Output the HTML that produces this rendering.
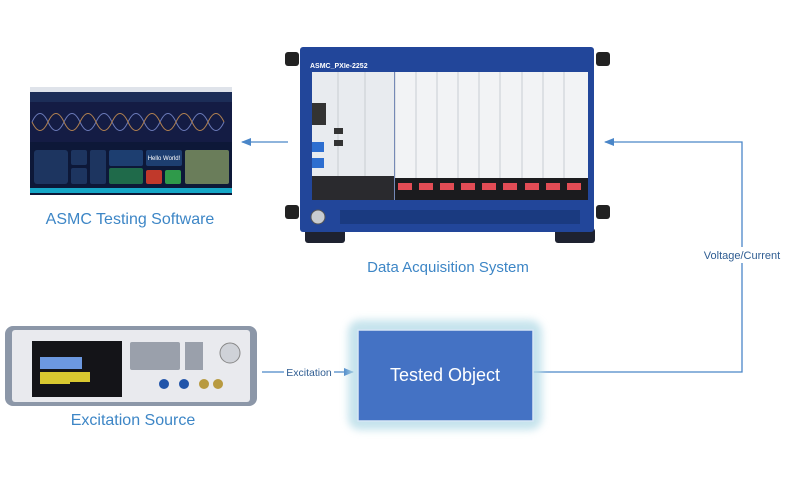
<!DOCTYPE html>
<html><head><meta charset="utf-8"><style>
body{margin:0;background:#fff;}
svg{display:block;font-family:"Liberation Sans",sans-serif;}
</style></head><body>
<svg width="789" height="480" viewBox="0 0 789 480" xmlns="http://www.w3.org/2000/svg">
<defs>
<marker id="ar" markerWidth="10" markerHeight="8" refX="9" refY="4" orient="auto" markerUnits="userSpaceOnUse"><path d="M0,0 L10,4 L0,8 Z" fill="#4a86c8"/></marker>
<filter id="gl" x="-20%" y="-20%" width="140%" height="140%"><feGaussianBlur stdDeviation="4"/></filter>
</defs>
<!-- Software screenshot -->
<rect x="30" y="87" width="202" height="108" fill="#0d1838"/>
<rect x="30" y="87" width="202" height="5" fill="#dfe3ea"/>
<rect x="30" y="92" width="202" height="10" fill="#1c2d57"/>
<rect x="30" y="102" width="202" height="40" fill="#141c44"/>
<path d="M32,122 Q40,105 48,122 T64,122 T80,122 T96,122 T112,122 T128,122 T144,122 T160,122 T176,122 T192,122 T208,122 T224,122" fill="none" stroke="#6b7ab8" stroke-width="1"/>
<path d="M32,122 Q40,139 48,122 T64,122 T80,122 T96,122 T112,122 T128,122 T144,122 T160,122 T176,122 T192,122 T208,122 T224,122" fill="none" stroke="#b08050" stroke-width="1"/>
<rect x="34" y="150" width="34" height="34" rx="3" fill="#1d3560"/>
<rect x="71" y="150" width="16" height="15" rx="2" fill="#1d3560"/>
<rect x="71" y="168" width="16" height="16" rx="2" fill="#1d3560"/>
<rect x="90" y="150" width="16" height="34" rx="2" fill="#1d3560"/>
<rect x="109" y="150" width="34" height="16" rx="2" fill="#1d3e70"/>
<rect x="109" y="168" width="34" height="16" rx="2" fill="#1f6a4a"/>
<rect x="146" y="150" width="36" height="16" rx="2" fill="#1d3e70"/>
<text x="164" y="160" font-size="6" fill="#fff" text-anchor="middle">Hello World!</text>
<rect x="146" y="170" width="16" height="14" rx="2" fill="#c0392b"/>
<rect x="165" y="170" width="16" height="14" rx="2" fill="#2f9a4a"/>
<rect x="185" y="150" width="44" height="34" rx="2" fill="#6a7d5a"/>
<rect x="30" y="188" width="202" height="5" fill="#15a7c7"/>
<text x="130" y="224" font-size="16" fill="#3d86c6" text-anchor="middle">ASMC Testing Software</text>
<!-- arrow chassis -> software -->
<line x1="288" y1="142" x2="242" y2="142" stroke="#4a86c8" stroke-width="1.3" marker-end="url(#ar)"/>
<!-- Chassis -->
<rect x="285" y="52" width="14" height="14" rx="3" fill="#222"/>
<rect x="596" y="52" width="14" height="14" rx="3" fill="#222"/>
<rect x="285" y="205" width="14" height="14" rx="3" fill="#222"/>
<rect x="596" y="205" width="14" height="14" rx="3" fill="#222"/>
<rect x="305" y="228" width="40" height="15" rx="3" fill="#1e2230"/>
<rect x="555" y="228" width="40" height="15" rx="3" fill="#1e2230"/>
<rect x="300" y="47" width="294" height="185" rx="3" fill="#22469a"/>
<text x="310" y="68" font-size="7" fill="#fff" font-weight="bold">ASMC_PXIe-2252</text>
<rect x="312" y="72" width="82" height="104" fill="#e8ebef"/>
<rect x="395" y="72" width="193" height="106" fill="#f2f3f5"/>
<g stroke="#c8ccd2" stroke-width="1">
<line x1="338" y1="72" x2="338" y2="200"/><line x1="365" y1="72" x2="365" y2="200"/><line x1="395" y1="72" x2="395" y2="200"/>
<line x1="416" y1="72" x2="416" y2="178"/><line x1="437" y1="72" x2="437" y2="178"/><line x1="458" y1="72" x2="458" y2="178"/>
<line x1="479" y1="72" x2="479" y2="178"/><line x1="500" y1="72" x2="500" y2="178"/><line x1="522" y1="72" x2="522" y2="178"/>
<line x1="543" y1="72" x2="543" y2="178"/><line x1="564" y1="72" x2="564" y2="178"/></g>
<rect x="312" y="176" width="82" height="24" fill="#2a2a2e"/>
<rect x="395" y="178" width="193" height="22" fill="#1b1b1e"/>
<g fill="#e34c55">
<rect x="398" y="183" width="14" height="7"/><rect x="419" y="183" width="14" height="7"/><rect x="440" y="183" width="14" height="7"/>
<rect x="461" y="183" width="14" height="7"/><rect x="482" y="183" width="14" height="7"/><rect x="503" y="183" width="14" height="7"/>
<rect x="525" y="183" width="14" height="7"/><rect x="546" y="183" width="14" height="7"/><rect x="567" y="183" width="14" height="7"/></g>
<rect x="312" y="103" width="14" height="22" fill="#333"/>
<rect x="312" y="142" width="12" height="10" fill="#2d6ed0"/><rect x="312" y="158" width="12" height="10" fill="#2d6ed0"/>
<rect x="334" y="128" width="9" height="6" fill="#333"/><rect x="334" y="140" width="9" height="6" fill="#333"/>
<circle cx="318" cy="217" r="7" fill="#c8ccd0" stroke="#555"/>
<rect x="340" y="210" width="240" height="14" fill="#1a3a80"/>
<text x="448" y="272" font-size="15" fill="#3d86c6" text-anchor="middle">Data Acquisition System</text>
<!-- Voltage/Current line -->
<polyline points="533,372 742,372 742,142 605,142" fill="none" stroke="#4a86c8" stroke-width="1.3" marker-end="url(#ar)"/>
<rect x="700" y="247" width="84" height="16" fill="#fff"/>
<text x="742" y="259" font-size="11" fill="#2f5d92" text-anchor="middle">Voltage/Current</text>
<!-- Excitation source device -->
<rect x="5" y="326" width="252" height="80" rx="8" fill="#8c97a8"/>
<rect x="12" y="330" width="238" height="72" rx="3" fill="#e9eaee"/>
<rect x="32" y="341" width="90" height="56" fill="#141418"/>
<rect x="40" y="357" width="30" height="12" fill="#6c98e0"/>
<rect x="40" y="372" width="30" height="12" fill="#d8c830"/>
<rect x="70" y="357" width="12" height="12" fill="#6c98e0"/>
<rect x="70" y="372" width="20" height="10" fill="#d8c830"/>
<g fill="#9aa0ab"><rect x="130" y="342" width="50" height="28" rx="2"/><rect x="185" y="342" width="18" height="28"/></g>
<circle cx="230" cy="353" r="10" fill="#cfd2d8" stroke="#888"/>
<circle cx="164" cy="384" r="5" fill="#2255aa"/><circle cx="184" cy="384" r="5" fill="#2255aa"/>
<circle cx="204" cy="384" r="5" fill="#b89a40"/><circle cx="218" cy="384" r="5" fill="#b89a40"/>
<text x="133" y="425" font-size="16" fill="#3d86c6" text-anchor="middle">Excitation Source</text>
<!-- Excitation arrow -->
<line x1="262" y1="372" x2="353" y2="372" stroke="#4a86c8" stroke-width="1.3" marker-end="url(#ar)"/>
<rect x="284" y="365" width="50" height="14" fill="#fff"/>
<text x="309" y="376" font-size="10.5" fill="#2f5d92" text-anchor="middle">Excitation</text>
<!-- Tested object -->
<rect x="348" y="320" width="194" height="110" rx="12" fill="#b8dde8" opacity="0.8" filter="url(#gl)"/>
<rect x="358" y="330" width="175" height="91" fill="#4472c4" stroke="#d6e6f5" stroke-width="1.5"/>
<text x="445" y="381" font-size="18" fill="#fff" text-anchor="middle">Tested Object</text>
</svg>
</body></html>
